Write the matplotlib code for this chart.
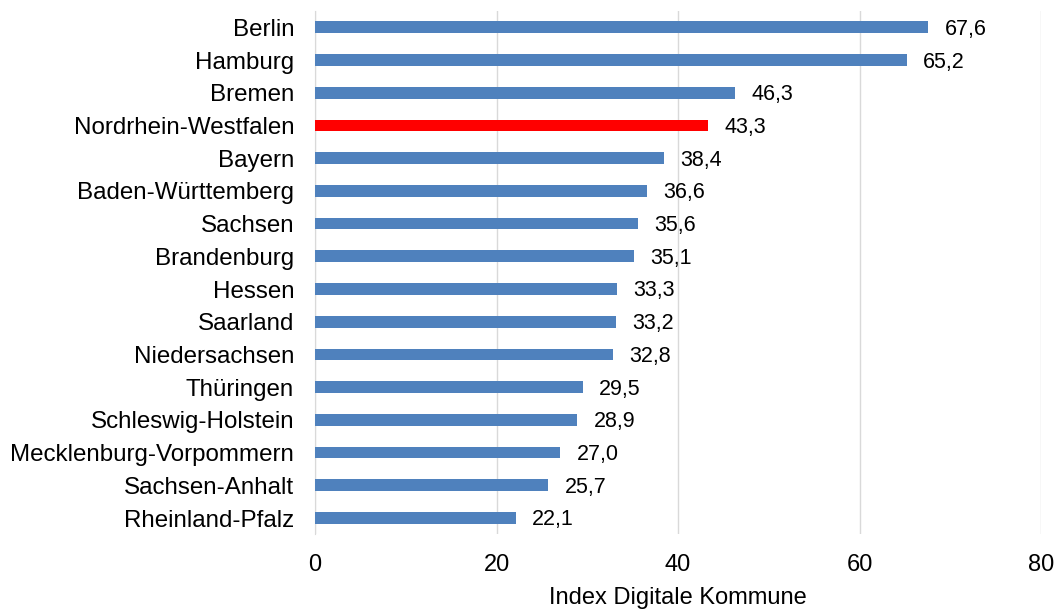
import matplotlib
matplotlib.use("Agg")
import matplotlib.pyplot as plt

plt.rcParams['font.family'] = ['Liberation Sans', 'DejaVu Sans']

states = ["Berlin", "Hamburg", "Bremen", "Nordrhein-Westfalen", "Bayern",
          "Baden-Württemberg", "Sachsen", "Brandenburg", "Hessen", "Saarland",
          "Niedersachsen", "Thüringen", "Schleswig-Holstein",
          "Mecklenburg-Vorpommern", "Sachsen-Anhalt", "Rheinland-Pfalz"]
values = [67.6, 65.2, 46.3, 43.3, 38.4, 36.6, 35.6, 35.1, 33.3, 33.2,
          32.8, 29.5, 28.9, 27.0, 25.7, 22.1]
highlight = "Nordrhein-Westfalen"
xticks = [0, 20, 40, 60, 80]

fig = plt.figure(figsize=(10.59, 6.10), dpi=100)
ax = fig.add_axes([0.2975, 0.124, 0.6855, 0.858])

ypos = list(range(len(states)))[::-1]
colors = ["#FF0000" if s == highlight else "#4F81BD" for s in states]
ax.barh(ypos, values, height=0.36, color=colors, zorder=3)
for y, v in zip(ypos, values):
    ax.text(v + 1.8, y - 0.06, f"{v:.1f}".replace(".", ","), va="center", ha="left",
            fontsize=15.5, color="black")

ax.set_yticks(ypos)
ax.set_yticklabels(states, fontsize=17.4)
ax.set_xlim(0, 80)
ax.set_ylim(-0.5, len(states) - 0.5)
ax.set_xticks(xticks)
ax.set_xticklabels([str(t) for t in xticks], fontsize=17)
ax.tick_params(axis='both', length=0)
ax.tick_params(axis='x', pad=14)
ax.tick_params(axis='y', pad=15)
ax.grid(axis='x', color="#D9D9D9", linewidth=1, zorder=0)
for s in ["top", "right", "bottom"]:
    ax.spines[s].set_visible(False)
ax.spines["left"].set_color("#D9D9D9")
ax.set_xlabel("Index Digitale Kommune", fontsize=17, labelpad=8)

fig.savefig("out.png", dpi=100)
